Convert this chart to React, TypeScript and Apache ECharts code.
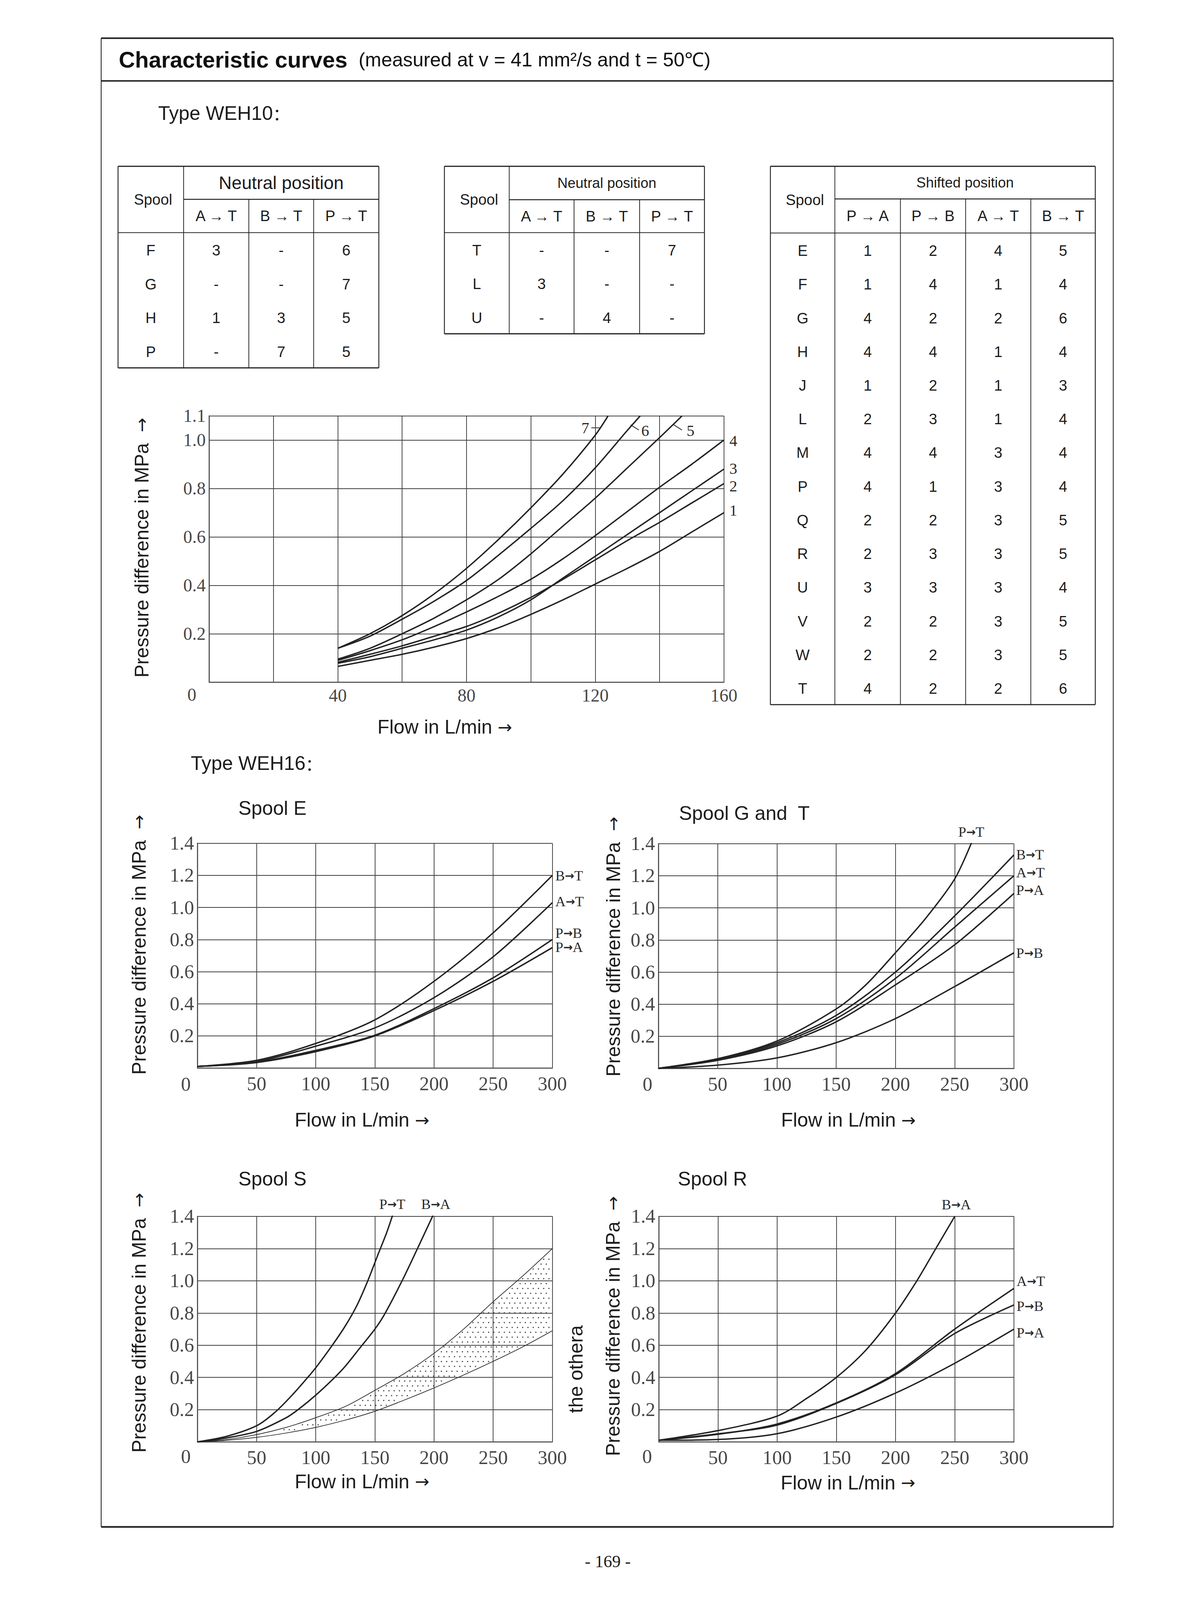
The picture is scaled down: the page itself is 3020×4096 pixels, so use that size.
import React, { useEffect, useRef } from "react";
import * as echarts from "echarts";

const W = 3020;
const H = 4096;
const S = 0.959;
const s = (v: number) => v * S;
const SANS = "'Liberation Sans', Arial, Helvetica, sans-serif";
const SERIF = "'Liberation Serif', 'Times New Roman', serif";
const ARROWF = "'DejaVu Sans', sans-serif";
const CJK = "'Noto Sans CJK SC', sans-serif";
const INK = "#1c1c1c";
const CURVE = "#222222";
const GRIDC = "#404040";
const TICKC = "#474747";

// ---------------- tables ----------------
const neutralHeads = ["A → T", "B → T", "P → T"];
const neutralSpoolsA = ["F", "G", "H", "P"];
const neutralA_AT = ["3", "-", "1", "-"];
const neutralA_BT = ["-", "-", "3", "7"];
const neutralA_PT = ["6", "7", "5", "5"];
const neutralSpoolsB = ["T", "L", "U"];
const neutralB_AT = ["-", "3", "-"];
const neutralB_BT = ["-", "-", "4"];
const neutralB_PT = ["7", "-", "-"];
const shiftedHeads = ["P → A", "P → B", "A → T", "B → T"];
const shiftedSpools = ["E", "F", "G", "H", "J", "L", "M", "P", "Q", "R", "U", "V", "W", "T"];
const shifted_PA = [1, 1, 4, 4, 1, 2, 4, 4, 2, 2, 3, 2, 2, 4];
const shifted_PB = [2, 4, 2, 4, 2, 3, 4, 1, 2, 3, 3, 2, 2, 2];
const shifted_AT = [4, 1, 2, 1, 1, 1, 3, 3, 3, 3, 3, 3, 3, 2];
const shifted_BT = [5, 4, 6, 4, 3, 4, 4, 4, 5, 5, 4, 5, 5, 6];

// ---------------- WEH10 curves (flow L/min, pressure MPa) ----------------
const weh10Curve1 = [[40, 0.065], [50, 0.09], [60, 0.115], [70, 0.145], [80, 0.18], [90, 0.225], [100, 0.28], [110, 0.34], [120, 0.405], [130, 0.47], [140, 0.54], [150, 0.62], [160, 0.7]];
const weh10Curve2 = [[40, 0.082], [50, 0.115], [60, 0.15], [70, 0.19], [80, 0.23], [90, 0.285], [100, 0.35], [110, 0.425], [120, 0.505], [130, 0.585], [140, 0.66], [150, 0.74], [160, 0.82]];
const weh10Curve3 = [[40, 0.078], [50, 0.105], [60, 0.14], [70, 0.175], [80, 0.215], [90, 0.27], [100, 0.34], [110, 0.43], [120, 0.52], [130, 0.61], [140, 0.7], [150, 0.79], [160, 0.88]];
const weh10Curve4 = [[40, 0.09], [50, 0.13], [60, 0.175], [70, 0.23], [80, 0.29], [90, 0.355], [100, 0.425], [110, 0.51], [120, 0.605], [130, 0.705], [140, 0.805], [150, 0.9], [160, 1.0]];
const weh10Curve5 = [[40, 0.095], [50, 0.14], [60, 0.2], [70, 0.265], [80, 0.34], [90, 0.425], [100, 0.53], [110, 0.645], [120, 0.76], [130, 0.885], [140, 1.01], [147, 1.1]];
const weh10Curve6 = [[40, 0.14], [50, 0.19], [60, 0.26], [70, 0.335], [80, 0.42], [90, 0.525], [100, 0.635], [110, 0.75], [120, 0.885], [130, 1.04], [134, 1.1]];
const weh10Curve7 = [[40, 0.14], [50, 0.2], [60, 0.275], [70, 0.365], [80, 0.47], [90, 0.59], [100, 0.72], [110, 0.86], [120, 1.02], [124, 1.1]];
const weh10Names = ["1", "2", "3", "4", "5", "6", "7"];
const weh10XTicks = [0, 40, 80, 120, 160];

// ---------------- WEH16 curves ----------------
const flowX = [0, 50, 100, 150, 200, 250, 300];
const spoolE_BT = [0.01, 0.048, 0.153, 0.3, 0.54, 0.842, 1.2];
const spoolE_AT = [0.01, 0.04, 0.136, 0.25, 0.438, 0.693, 1.03];
const spoolE_PB = [0.01, 0.036, 0.11, 0.204, 0.37, 0.562, 0.8];
const spoolE_PA = [0.01, 0.034, 0.102, 0.2, 0.358, 0.54, 0.75];

const spoolG_PT = [[0, 0.0], [50, 0.06], [100, 0.17], [150, 0.37], [175, 0.52], [200, 0.72], [225, 0.93], [250, 1.18], [265, 1.42]];
const spoolG_BT = [0.0, 0.06, 0.16, 0.33, 0.6, 0.95, 1.33];
const spoolG_AT = [0.0, 0.055, 0.15, 0.31, 0.56, 0.88, 1.2];
const spoolG_PA = [0.0, 0.05, 0.14, 0.29, 0.52, 0.77, 1.09];
const spoolG_PB = [0.0, 0.02, 0.065, 0.16, 0.31, 0.51, 0.72];

const spoolS_PT = [[0, 0], [25, 0.035], [50, 0.1], [65, 0.18], [80, 0.29], [92, 0.39], [100, 0.46], [114, 0.6], [125, 0.72], [135, 0.85], [144, 1.0], [153, 1.17], [160, 1.3], [166, 1.43]];
const spoolS_BA = [[0, 0], [25, 0.025], [50, 0.065], [75, 0.15], [85, 0.2], [100, 0.29], [116, 0.4], [125, 0.47], [137, 0.58], [150, 0.7], [158, 0.79], [173, 1.0], [186, 1.2], [200, 1.42]];
const bandX = [0, 25, 50, 75, 100, 125, 150, 175, 200, 225, 250, 275, 300];
const bandUpper = [0, 0.015, 0.045, 0.09, 0.15, 0.22, 0.32, 0.425, 0.55, 0.7, 0.87, 1.03, 1.2];
const bandLower = [0, 0.01, 0.028, 0.055, 0.09, 0.135, 0.19, 0.26, 0.335, 0.415, 0.5, 0.59, 0.69];

const spoolR_BA = [[0, 0.01], [50, 0.07], [100, 0.16], [125, 0.27], [150, 0.4], [175, 0.57], [200, 0.8], [218, 1.0], [234, 1.2], [250, 1.4]];
const spoolR_AT = [0.01, 0.047, 0.111, 0.242, 0.424, 0.7, 0.953];
const spoolR_PB = [0.01, 0.05, 0.104, 0.239, 0.417, 0.673, 0.85];
const spoolR_PA = [0.01, 0.015, 0.051, 0.154, 0.303, 0.488, 0.7];

const zip = (xs: number[], ys: number[]) => xs.map((x, i) => [x, ys[i]]);

// ---------------- graphic helpers ----------------
const gLine = (x1: number, y1: number, x2: number, y2: number, w = 2, color = "#222") => ({
  type: "line",
  silent: true,
  shape: { x1: s(x1), y1: s(y1), x2: s(x2), y2: s(y2) },
  style: { stroke: color, lineWidth: s(w) },
});

const gText = (x: number, y: number, t: string, size: number, o: any = {}) => {
  const color = o.color || INK;
  const style: any = {
    text: t,
    fontSize: s(size),
    fontFamily: o.family || SANS,
    fontWeight: o.weight || "normal",
    fill: color,
    align: o.align || "center",
    textAlign: o.align || "center",
    verticalAlign: "middle",
    textVerticalAlign: "middle",
  };
  if (o.rich) {
    const rich: any = {};
    Object.keys(o.rich).forEach((k) => {
      rich[k] = { fontSize: s(size), fill: color, color, fontFamily: SANS, ...o.rich[k] };
      if (o.rich[k].fontSize) rich[k].fontSize = s(o.rich[k].fontSize);
    });
    style.rich = rich;
  }
  return { type: "text", silent: true, x: s(x), y: s(y), rotation: o.rot || 0, style };
};

function buildTable(
  cols: number[],
  top: number,
  split: number,
  hb: number,
  bottom: number,
  title: string,
  titleSize: number,
  heads: string[],
  spools: string[],
  columns: (string | number)[][]
) {
  const els: any[] = [];
  const L = cols[0];
  const R = cols[cols.length - 1];
  els.push(gLine(L, top, R, top, 3.2));
  els.push(gLine(cols[1], split, R, split, 2.6));
  els.push(gLine(L, hb, R, hb, 2.2));
  els.push(gLine(L, bottom, R, bottom, 3));
  els.push(gLine(L, top, L, bottom, 2.4));
  els.push(gLine(R, top, R, bottom, 2.4));
  els.push(gLine(cols[1], top, cols[1], bottom, 2));
  for (let i = 2; i < cols.length - 1; i++) els.push(gLine(cols[i], split, cols[i], bottom, 2));
  els.push(gText((cols[0] + cols[1]) / 2 + 6, (top + hb) / 2, "Spool", 40));
  els.push(gText((cols[1] + R) / 2, (top + split) / 2, title, titleSize));
  heads.forEach((h, i) => els.push(gText((cols[i + 1] + cols[i + 2]) / 2, (split + hb) / 2, h, 40)));
  const rowH = (bottom - hb) / spools.length;
  spools.forEach((sp, r) => {
    const cy = hb + rowH * (r + 0.5) + 2;
    els.push(gText((cols[0] + cols[1]) / 2, cy, sp, 40));
    columns.forEach((col, c) => {
      els.push(gText((cols[c + 1] + cols[c + 2]) / 2, cy, String(col[r]), 40));
    });
  });
  return els;
}

// ---------------- axes ----------------
function xAxisOf(gi: number, max: number, interval: number, labelEvery: number, fontSize: number, margin: number) {
  return {
    type: "value",
    gridIndex: gi,
    min: 0,
    max,
    interval,
    axisLine: { show: true, onZero: false, lineStyle: { color: "#505050", width: s(2.8) } },
    axisTick: { show: false },
    splitLine: { show: true, lineStyle: { color: GRIDC, width: s(2) } },
    axisLabel: {
      show: true,
      formatter: (v: number) => (v === 0 || Math.round(v) % labelEvery !== 0 ? "" : String(Math.round(v))),
      fontFamily: SERIF,
      fontSize: s(fontSize),
      color: TICKC,
      margin: s(margin),
    },
  };
}

function yAxisOf(gi: number, max: number, fontSize: number) {
  return {
    type: "value",
    gridIndex: gi,
    min: 0,
    max,
    interval: 0.2,
    axisLine: { show: true, onZero: false, lineStyle: { color: "#505050", width: s(2.8) } },
    axisTick: { show: false },
    splitLine: { show: true, lineStyle: { color: GRIDC, width: s(2.3) } },
    axisLabel: {
      show: true,
      formatter: (v: number) => (v === 0 ? "" : v.toFixed(1)),
      fontFamily: SERIF,
      fontSize: s(fontSize),
      color: TICKC,
      margin: s(9),
    },
  };
}

const lineSeries = (gi: number, name: string, data: number[][], width = 3.7) => ({
  type: "line",
  name,
  xAxisIndex: gi,
  yAxisIndex: gi,
  data,
  showSymbol: false,
  symbol: "none",
  smooth: 0.3,
  clip: true,
  silent: true,
  z: 3,
  lineStyle: { color: CURVE, width: s(width) },
});

function bandDots(params: any, api: any) {
  const up = bandX.map((x, i) => api.coord([x, bandUpper[i]]));
  const lo = bandX.map((x, i) => api.coord([x, bandLower[i]]));
  const interp = (arr: number[][], px: number) => {
    for (let i = 0; i < arr.length - 1; i++) {
      if (px >= arr[i][0] && px <= arr[i + 1][0]) {
        const t = (px - arr[i][0]) / (arr[i + 1][0] - arr[i][0]);
        return arr[i][1] + t * (arr[i + 1][1] - arr[i][1]);
      }
    }
    return null;
  };
  const dx = s(14);
  const dy = s(13);
  const children: any[] = [];
  const yBottom = lo[0][1];
  const yTop = up[up.length - 1][1];
  const x0 = up[0][0];
  const x1 = up[up.length - 1][0];
  let row = 0;
  for (let py = yBottom - dy / 2; py > yTop; py -= dy, row++) {
    for (let px = x0 + dx / 2 + (row % 2) * (dx / 2); px < x1 - 2; px += dx) {
      const yu = interp(up, px);
      const yl = interp(lo, px);
      if (yu == null || yl == null) continue;
      if (py > yu + s(4) && py < yl - s(4)) {
        children.push({ type: "rect", shape: { x: px - s(1.5), y: py - s(1.5), width: s(3), height: s(3) }, style: { fill: "#3c3c3c" } });
      }
    }
  }
  return { type: "group", children };
}

function buildOption() {
  const grids = [
    { left: s(558), top: s(1110), width: s(1374), height: s(711) },
    { left: s(527), top: s(2251), width: s(947), height: s(600) },
    { left: s(1757), top: s(2252), width: s(949), height: s(600) },
    { left: s(527), top: s(3247), width: s(947), height: s(602) },
    { left: s(1758), top: s(3247), width: s(948), height: s(602) },
  ];

  const xAxis = [
    xAxisOf(0, 160, 20, 40, 48, 12),
    xAxisOf(1, 300, 50, 50, 52, 16),
    xAxisOf(2, 300, 50, 50, 52, 16),
    xAxisOf(3, 300, 50, 50, 52, 16),
    xAxisOf(4, 300, 50, 50, 52, 16),
  ];
  const yAxis = [yAxisOf(0, 1.1, 48), yAxisOf(1, 1.4, 52), yAxisOf(2, 1.4, 52), yAxisOf(3, 1.4, 52), yAxisOf(4, 1.4, 52)];

  const weh10 = [weh10Curve1, weh10Curve2, weh10Curve3, weh10Curve4, weh10Curve5, weh10Curve6, weh10Curve7];
  const series: any[] = [];
  weh10.forEach((d, i) => series.push(lineSeries(0, "WEH10 " + weh10Names[i], d)));
  series.push(lineSeries(1, "E B→T", zip(flowX, spoolE_BT)));
  series.push(lineSeries(1, "E A→T", zip(flowX, spoolE_AT)));
  series.push(lineSeries(1, "E P→B", zip(flowX, spoolE_PB)));
  series.push(lineSeries(1, "E P→A", zip(flowX, spoolE_PA)));
  series.push(lineSeries(2, "G P→T", spoolG_PT));
  series.push(lineSeries(2, "G B→T", zip(flowX, spoolG_BT)));
  series.push(lineSeries(2, "G A→T", zip(flowX, spoolG_AT)));
  series.push(lineSeries(2, "G P→A", zip(flowX, spoolG_PA)));
  series.push(lineSeries(2, "G P→B", zip(flowX, spoolG_PB)));
  series.push({
    type: "custom",
    name: "S band",
    xAxisIndex: 3,
    yAxisIndex: 3,
    data: [[0, 0]],
    silent: true,
    clip: false,
    z: 2,
    renderItem: bandDots,
  });
  series.push(lineSeries(3, "S P→T", spoolS_PT));
  series.push(lineSeries(3, "S B→A", spoolS_BA));
  series.push(lineSeries(3, "S upper", zip(bandX, bandUpper), 1.8));
  series.push(lineSeries(3, "S lower", zip(bandX, bandLower), 1.8));
  series.push(lineSeries(4, "R B→A", spoolR_BA));
  series.push(lineSeries(4, "R A→T", zip(flowX, spoolR_AT)));
  series.push(lineSeries(4, "R P→B", zip(flowX, spoolR_PB)));
  series.push(lineSeries(4, "R P→A", zip(flowX, spoolR_PA)));

  const els: any[] = [];
  // page frame
  els.push(gLine(270, 102, 2971, 102, 4.2));
  els.push(gLine(270, 216, 2971, 216, 4));
  els.push(gLine(270, 4076, 2971, 4076, 4.2));
  els.push(gLine(270, 102, 270, 4076, 2.2));
  els.push(gLine(2971, 102, 2971, 4076, 2.2));
  // header
  els.push(gText(317, 160, "Characteristic curves", 60, { align: "left", weight: "bold", color: "#111" }));
  els.push(gText(957, 160, "(measured at v = 41 mm²/s and t = 50℃)", 52, { align: "left", color: "#111" }));
  const colon = { c: { fontFamily: CJK, fontSize: 44 } };
  els.push(gText(422, 302, "Type WEH10{c|：}", 52, { align: "left", rich: colon }));
  els.push(gText(509, 2038, "Type WEH16{c|：}", 52, { align: "left", rich: colon }));
  els.push(gText(1622, 4168, "- 169 -", 46, { family: SERIF }));

  // tables
  els.push(
    ...buildTable([315, 490, 664, 837, 1011], 444, 532, 621, 982, "Neutral position", 48, neutralHeads, neutralSpoolsA, [
      neutralA_AT,
      neutralA_BT,
      neutralA_PT,
    ])
  );
  els.push(
    ...buildTable([1186, 1359, 1532, 1707, 1880], 444, 533, 621, 891, "Neutral position", 38, neutralHeads, neutralSpoolsB, [
      neutralB_AT,
      neutralB_BT,
      neutralB_PT,
    ])
  );
  els.push(
    ...buildTable([2056, 2228, 2403, 2577, 2751, 2923], 444, 531, 622, 1881, "Shifted position", 38, shiftedHeads, shiftedSpools, [
      shifted_PA,
      shifted_PB,
      shifted_AT,
      shifted_BT,
    ])
  );

  // axis titles
  const arrow = { a: { fontFamily: ARROWF, fontSize: 46 } };
  const yTitle = "Pressure difference in MPa  {a|→}";
  const xTitle = "Flow in L/min {a|→}";
  const rot = Math.PI / 2;
  els.push(gText(378, 1462, yTitle, 52, { rot, rich: arrow }));
  els.push(gText(371, 2522, yTitle, 52, { rot, rich: arrow }));
  els.push(gText(1637, 2527, yTitle, 52, { rot, rich: arrow }));
  els.push(gText(371, 3531, yTitle, 52, { rot, rich: arrow }));
  els.push(gText(1636, 3540, yTitle, 52, { rot, rich: arrow }));
  els.push(gText(1537, 3655, "the othera", 52, { rot }));
  els.push(gText(1187, 1941, xTitle, 52, { rich: arrow }));
  els.push(gText(966, 2990, xTitle, 52, { rich: arrow }));
  els.push(gText(2264, 2990, xTitle, 52, { rich: arrow }));
  els.push(gText(966, 3955, xTitle, 52, { rich: arrow }));
  els.push(gText(2263, 3958, xTitle, 52, { rich: arrow }));

  // chart titles
  els.push(gText(636, 2157, "Spool E", 52, { align: "left" }));
  els.push(gText(1812, 2171, "Spool G and  T", 52, { align: "left" }));
  els.push(gText(636, 3147, "Spool S", 52, { align: "left" }));
  els.push(gText(1809, 3147, "Spool R", 52, { align: "left" }));

  // origin "0" tick labels
  const zero = { family: SERIF, color: TICKC };
  els.push(gText(512, 1855, String(weh10XTicks[0]), 48, zero));
  els.push(gText(496, 2894, String(flowX[0]), 52, zero));
  els.push(gText(1728, 2894, String(flowX[0]), 52, zero));
  els.push(gText(496, 3888, String(flowX[0]), 52, zero));
  els.push(gText(1727, 3888, String(flowX[0]), 52, zero));

  // WEH10 curve labels
  const lab = { family: SERIF, color: "#2a2a2a" };
  els.push(gText(1562, 1142, weh10Names[6], 42, lab));
  els.push(gLine(1578, 1142, 1600, 1142, 2.2, "#333"));
  els.push(gText(1722, 1150, weh10Names[5], 42, lab));
  els.push(gLine(1683, 1134, 1705, 1148, 2.2, "#333"));
  els.push(gText(1843, 1150, weh10Names[4], 42, lab));
  els.push(gLine(1798, 1134, 1820, 1148, 2.2, "#333"));
  els.push(gText(1957, 1177, weh10Names[3], 42, lab));
  els.push(gText(1957, 1251, weh10Names[2], 42, lab));
  els.push(gText(1957, 1298, weh10Names[1], 42, lab));
  els.push(gText(1957, 1362, weh10Names[0], 42, lab));

  // WEH16 curve labels (bold short arrow as in the reference)
  const arr = { a: { fontFamily: ARROWF, fontSize: 30, fontWeight: "bold" } };
  const labC = { family: SERIF, color: "#2a2a2a", rich: arr };
  const labL = { family: SERIF, color: "#2a2a2a", align: "left", rich: arr };
  const cl = (a: string, b: string) => `${a}{a|→}${b}`;
  els.push(gText(1482, 2338, cl("B", "T"), 38, labL));
  els.push(gText(1482, 2407, cl("A", "T"), 38, labL));
  els.push(gText(1482, 2491, cl("P", "B"), 38, labL));
  els.push(gText(1482, 2529, cl("P", "A"), 38, labL));

  els.push(gText(2592, 2221, cl("P", "T"), 38, labC));
  els.push(gText(2712, 2282, cl("B", "T"), 38, labL));
  els.push(gText(2712, 2330, cl("A", "T"), 38, labL));
  els.push(gText(2712, 2376, cl("P", "A"), 38, labL));
  els.push(gText(2712, 2544, cl("P", "B"), 38, labL));

  els.push(gText(1047, 3215, cl("P", "T"), 38, labC));
  els.push(gText(1163, 3215, cl("B", "A"), 38, labC));

  els.push(gText(2552, 3216, cl("B", "A"), 38, labC));
  els.push(gText(2713, 3420, cl("A", "T"), 38, labL));
  els.push(gText(2713, 3487, cl("P", "B"), 38, labL));
  els.push(gText(2713, 3558, cl("P", "A"), 38, labL));

  return {
    animation: false,
    backgroundColor: "#ffffff",
    grid: grids,
    xAxis,
    yAxis,
    series,
    graphic: { elements: els },
  };
}

export default function App() {
  const ref = useRef<HTMLDivElement>(null);
  useEffect(() => {
    document.body.style.margin = "0";
    const chart = echarts.init(ref.current as HTMLDivElement, null, { renderer: "svg", width: W, height: H });
    chart.setOption(buildOption() as any);
    return () => chart.dispose();
  }, []);
  return <div ref={ref} style={{ position: "absolute", left: 0, top: 0, width: W, height: H, background: "#fff" }} />;
}
